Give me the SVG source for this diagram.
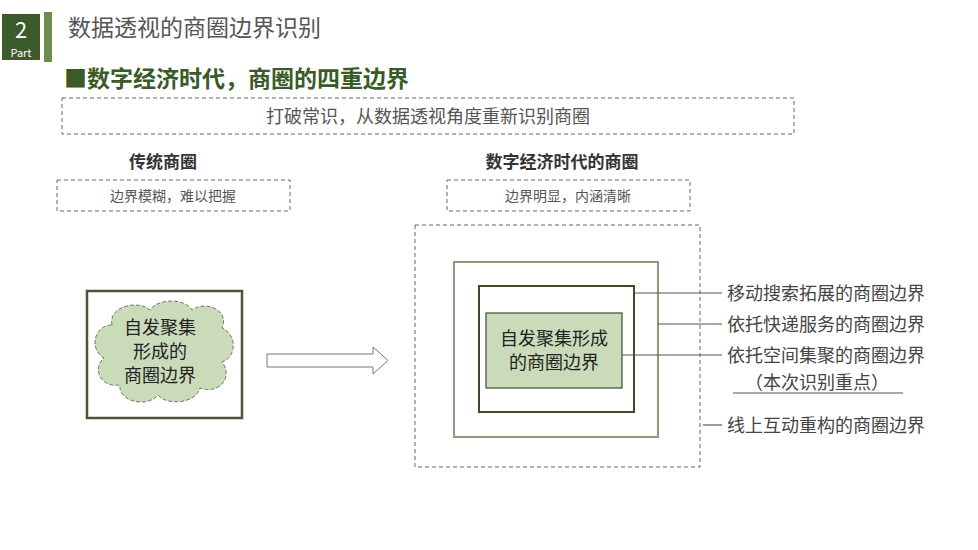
<svg xmlns="http://www.w3.org/2000/svg" width="978" height="550" viewBox="0 0 978 550">
<style>
text{font-family:"Noto Sans CJK SC","Liberation Sans",sans-serif}
.g{fill:#555}
.dash{fill:none;stroke:#666;stroke-width:1;stroke-dasharray:4 3}
.ln{stroke:#555;stroke-width:1.2}
.lbl{font-size:18px;fill:#444}
</style>
<rect width="978" height="550" fill="#fff"/>
<g id="header">
<rect x="2" y="14" width="38" height="46" fill="#3d5a2c"/>
<text x="21" y="38" font-size="22" fill="#fff" text-anchor="middle">2</text>
<text x="21" y="57" font-size="11" fill="#fff" text-anchor="middle">Part</text>
<rect x="44" y="12" width="8" height="50" fill="#6b8e4e"/>
<text x="68" y="36" font-size="23" class="g">数据透视的商圈边界识别</text>
<text x="64" y="87" font-size="23" font-weight="bold" fill="#3a5a28">■数字经济时代，商圈的四重边界</text>
</g>
<g id="banner">
<rect x="62" y="98" width="732" height="36" class="dash"/>
<text x="428" y="123" font-size="18" class="g" text-anchor="middle">打破常识，从数据透视角度重新识别商圈</text>
</g>
<g id="left-head">
<text x="163" y="168" font-size="17" font-weight="bold" fill="#333" text-anchor="middle">传统商圈</text>
<rect x="57" y="180" width="233" height="31" class="dash"/>
<text x="173" y="201" font-size="14" class="g" text-anchor="middle">边界模糊，难以把握</text>
</g>
<g id="right-head">
<text x="562" y="168" font-size="17" font-weight="bold" fill="#333" text-anchor="middle">数字经济时代的商圈</text>
<rect x="447" y="180" width="243" height="31" class="dash"/>
<text x="568" y="201" font-size="14" class="g" text-anchor="middle">边界明显，内涵清晰</text>
</g>
<g id="left-node">
<rect x="87" y="291" width="155" height="127" fill="#fff" stroke="#4a5538" stroke-width="2.5"/>
<path d="M112,325 C108,305 140,300 150,310 C158,298 185,298 192,310 C205,300 230,310 222,328 C238,335 236,358 222,362 C234,378 218,395 200,388 C195,405 165,405 158,395 C148,408 118,402 120,385 C100,388 92,368 104,358 C88,348 95,325 112,325 Z" fill="#c9dbb9" stroke="#6a7a60" stroke-width="1" stroke-dasharray="4 2"/>
<text x="160" y="334" font-size="18" fill="#222" text-anchor="middle">自发聚集</text>
<text x="160" y="358" font-size="18" fill="#222" text-anchor="middle">形成的</text>
<text x="160" y="382" font-size="18" fill="#222" text-anchor="middle">商圈边界</text>
</g>
<g id="arrow">
<path d="M267,354 H373 V347 L388,360.5 L373,374 V367 H267 Z" fill="#fff" stroke="#777" stroke-width="1"/>
</g>
<g id="right-node">
<rect x="415" y="225" width="285" height="242" class="dash" stroke-dasharray="8 5" stroke="#777"/>
<rect x="454" y="262" width="204" height="175" fill="none" stroke="#8c9a7c" stroke-width="2"/>
<rect x="479" y="286" width="155" height="126" fill="none" stroke="#3e4a30" stroke-width="2"/>
<rect x="486" y="313" width="136" height="75" fill="#c9dbb9" stroke="#3e4a30" stroke-width="1.2"/>
<text x="554" y="345" font-size="18" fill="#222" text-anchor="middle">自发聚集形成</text>
<text x="554" y="369" font-size="18" fill="#222" text-anchor="middle">的商圈边界</text>
</g>
<g id="connectors">
<line x1="634" y1="293" x2="722" y2="293" class="ln"/>
<line x1="658" y1="324" x2="722" y2="324" class="ln"/>
<line x1="622" y1="355" x2="722" y2="355" class="ln"/>
<line x1="733" y1="393" x2="903" y2="393" class="ln"/>
<line x1="703" y1="425" x2="722" y2="425" class="ln"/>
</g>
<g id="labels">
<text x="727" y="300" class="lbl">移动搜索拓展的商圈边界</text>
<text x="727" y="331" class="lbl">依托快递服务的商圈边界</text>
<text x="727" y="362" class="lbl">依托空间集聚的商圈边界</text>
<text x="817" y="389" class="lbl" text-anchor="middle">（本次识别重点）</text>
<text x="727" y="432" class="lbl">线上互动重构的商圈边界</text>
</g>
</svg>
